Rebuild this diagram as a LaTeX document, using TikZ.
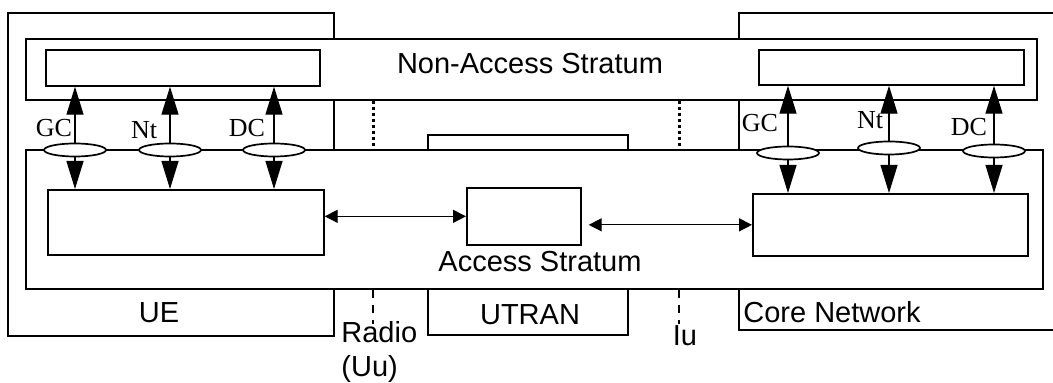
\documentclass[tikz,border=0pt]{standalone}
\usepackage{fontspec}
\setmainfont{Liberation Sans}
\newfontfamily\timesfont{Liberation Serif}
\usetikzlibrary{arrows.meta,shapes,positioning}

\tikzset{
  box/.style={draw,fill=white,line width=0.85pt,anchor=north west,inner sep=0pt},
  sap/.style={draw,fill=white,ellipse,line width=0.85pt,minimum width=31pt,minimum height=6.5pt,inner sep=0pt},
  bigarrow/.style={-{Triangle[length=14pt,width=8.5pt]},line width=0.6pt},
  smallarrow/.style={{Triangle[length=6.5pt,width=6.5pt]}-{Triangle[length=6.5pt,width=6.5pt]},line width=0.65pt},
  lbl/.style={font=\fontsize{14.5}{17}\selectfont,inner sep=0pt},
  saplbl/.style={font=\timesfont\fontsize{13}{14}\selectfont,inner sep=0pt}
}

\begin{document}
\begin{tikzpicture}[x=0.5pt,y=-0.5pt]
\useasboundingbox (0,0) rectangle (1053,383);

\node[box,minimum width=163pt,minimum height=161.5pt] (ue) at (7,12) {};
\node[box,minimum width=161pt,minimum height=158.5pt] (cn) at (738,12) {};
\node[box,minimum width=100pt,minimum height=100pt] (utran) at (427,134) {};

\node[box,minimum width=505.5pt,minimum height=30.5pt] (nas) at (25,38) {};
\node[box,minimum width=508.5pt,minimum height=69.5pt] (as) at (25,149) {};

\node[box,minimum width=137pt,minimum height=18pt] (uenas) at (45,49) {};
\node[box,minimum width=132.5pt,minimum height=17.5pt] (cnnas) at (758,49) {};
\node[box,minimum width=138pt,minimum height=32.5pt] (ueas) at (47,189) {};
\node[box,minimum width=57pt,minimum height=28.5pt] (utras) at (466,187) {};
\node[box,minimum width=137.5pt,minimum height=31pt] (cnas) at (752,193) {};

\coordinate (radio) at (373,0);
\coordinate (iu) at (679,0);
\draw[line width=1.5pt,dash pattern=on 1.5pt off 1.5pt] (radio |- nas.south) -- (radio |- as.north);
\draw[line width=1.5pt,dash pattern=on 1.5pt off 1.5pt] (iu |- nas.south) -- (iu |- as.north);
\draw[line width=0.8pt,dash pattern=on 4pt off 3.5pt] (radio |- as.south) -- ++(0,34);
\draw[line width=0.8pt,dash pattern=on 4pt off 3.5pt] (iu |- as.south) -- ++(0,34);

\node[sap] (gcue) at (75,150) {};
\node[sap] (ntue) at (170,150) {};
\node[sap] (dcue) at (274,150) {};
\node[sap] (gccn) at (788,153) {};
\node[sap] (ntcn) at (889,148) {};
\node[sap] (dccn) at (994,151) {};

\foreach \s/\a/\b in {gcue/uenas/ueas,ntue/uenas/ueas,dcue/uenas/ueas,gccn/cnnas/cnas,ntcn/cnnas/cnas,dccn/cnnas/cnas}{
  \draw[bigarrow] (\s) -- (\s |- \a.south);
  \draw[bigarrow] (\s) -- (\s |- \b.north);
}

\draw[smallarrow] (utras.west) -- (utras.west -| ueas.east);
\draw[smallarrow,shorten >=3.5pt] (cnas.west) -- (cnas.west -| utras.east);

\node[saplbl] (gcuel) at (54,128) {GC};
\node[saplbl] (ntuel) at (144,130) {Nt};
\node[saplbl] (dcuel) at (247,128) {DC};
\node[saplbl] (gccnl) at (760,123) {GC};
\node[saplbl] (ntcnl) at (870,120) {Nt};
\node[saplbl] (dccnl) at (969,127) {DC};

\node[lbl] (nastext) at (530,64) {Non-Access Stratum};
\node[lbl] (astext) at (540,262) {Access Stratum};
\node[lbl] (uetext) at (159,313) {UE};
\node[lbl] (utrantext) at (530,315) {UTRAN};
\node[lbl,align=left,anchor=west] (radiotext) at (341,352) {Radio\\(Uu)};
\node[lbl] (iutext) at (685,336) {Iu};
\node[lbl,anchor=west] (cntext) at (743,312) {Core Network};
\end{tikzpicture}
\end{document}
